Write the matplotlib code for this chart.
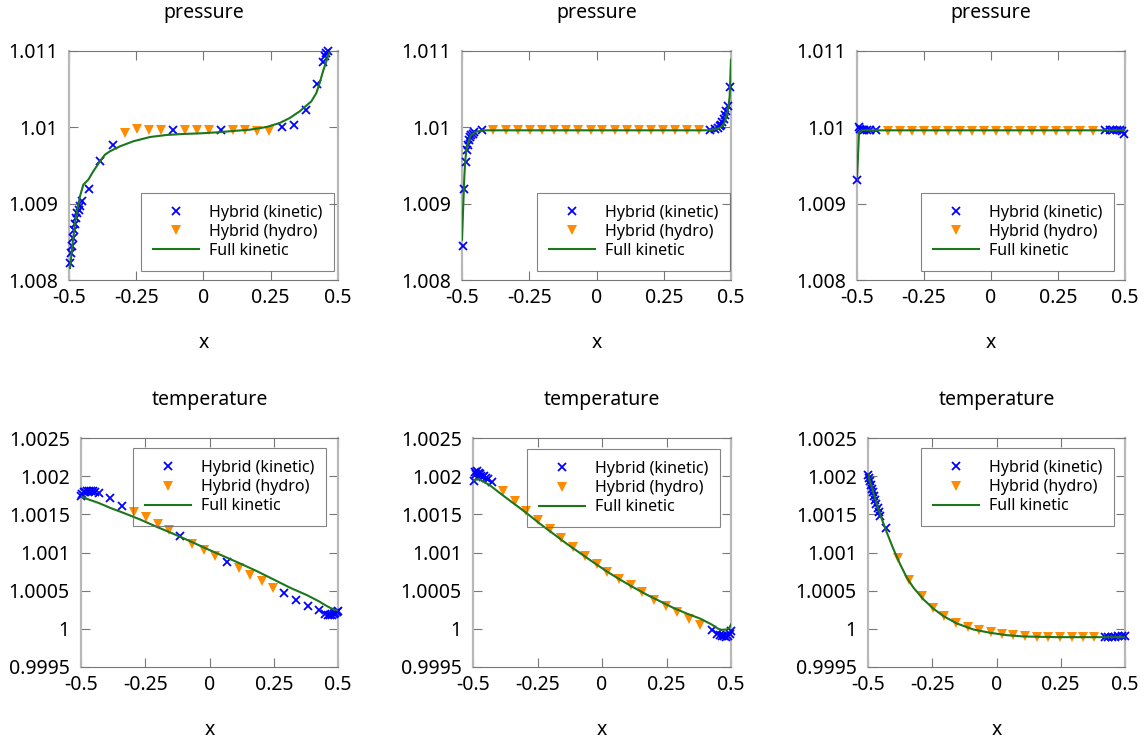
import matplotlib
matplotlib.use("Agg")
import matplotlib.pyplot as plt
from matplotlib.ticker import FuncFormatter

plt.rcParams['font.family'] = ['Noto Sans', 'DejaVu Sans']
plt.rcParams['axes.unicode_minus'] = False

# ---------------- pressure, left panel ----------------
p1_kin_x = [-0.4963, -0.4926, -0.4889, -0.4851, -0.4814, -0.4765, -0.4728, -0.4691, -0.4641,
            -0.4592, -0.4530, -0.4270, -0.3849, -0.3354, -0.1126, 0.0644, 0.2921, 0.3354,
            0.3800, 0.4233, 0.4443, 0.4505, 0.4567, 0.4629]
p1_kin_y = [1.008223, 1.008354, 1.008450, 1.008550, 1.008651, 1.008738, 1.008812, 1.008878,
            1.008921, 1.008974, 1.009031, 1.009192, 1.009555, 1.009764, 1.009961, 1.009961,
            1.010004, 1.010035, 1.010227, 1.010568, 1.010856, 1.010930, 1.010974, 1.011000]
p1_hyd_x = [-0.2921, -0.2475, -0.2030, -0.1584, -0.0681, -0.0235, 0.0210, 0.1101, 0.1547,
            0.1993, 0.2438]
p1_hyd_y = [1.009925, 1.009980, 1.009969, 1.009969, 1.009961, 1.009961, 1.009961, 1.009969,
            1.009961, 1.009956, 1.009956]
p1_full_x = [-0.4963, -0.4864, -0.4777, -0.4691, -0.4592, -0.4468, -0.4282, -0.4097, -0.3849,
             -0.3663, -0.3478, -0.3106, -0.2611, -0.1993, -0.1374, -0.0755, -0.0136, 0.0483,
             0.1101, 0.1720, 0.2339, 0.2834, 0.3205, 0.3577, 0.4010, 0.4196, 0.4319, 0.4443,
             0.4567, 0.4666]
p1_full_y = [1.008157, 1.008485, 1.008747, 1.008921, 1.009096, 1.009249, 1.009314, 1.009424,
             1.009555, 1.009642, 1.009686, 1.009751, 1.009817, 1.009873, 1.009900, 1.009913,
             1.009921, 1.009934, 1.009952, 1.009969, 1.010004, 1.010057, 1.010122, 1.010210,
             1.010341, 1.010450, 1.010581, 1.010734, 1.010865, 1.010974]

# ---------------- pressure, middle panel ----------------
p2_kin_x = [-0.4975, -0.4913, -0.4864, -0.4826, -0.4789, -0.4739, -0.4702, -0.4653, -0.4603,
            -0.4553, -0.4268, 0.4231, 0.4417, 0.4504, 0.4578, 0.4628, 0.4677, 0.4727, 0.4777,
            0.4826, 0.4888, 0.4950]
p2_kin_y = [1.008450, 1.009192, 1.009541, 1.009707, 1.009773, 1.009838, 1.009873, 1.009904,
            1.009917, 1.009934, 1.009961, 1.009961, 1.009978, 1.009996, 1.010013, 1.010035,
            1.010066, 1.010109, 1.010166, 1.010210, 1.010284, 1.010528]
p2_hyd_x = [-0.3834, -0.3375, -0.2928, -0.2469, -0.2022, -0.1576, -0.1129, -0.0670, -0.0223,
            0.0223, 0.0670, 0.1129, 0.1576, 0.2022, 0.2469, 0.2928, 0.3375, 0.3821]
p2_hyd_y = [1.009961] * 18
p2_full_x = [-0.5, -0.4950, -0.4913, -0.4876, -0.4826, -0.4764, -0.4677, -0.4516, -0.4206,
             0.0012, 0.4107, 0.4355, 0.4541, 0.4665, 0.4752, 0.4826, 0.4901, 0.4950, 0.5]
p2_full_y = [1.008528, 1.009009, 1.009358, 1.009576, 1.009729, 1.009817, 1.009891, 1.009939,
             1.009961, 1.009961, 1.009961, 1.009969, 1.009987, 1.010013, 1.010057, 1.010135,
             1.010253, 1.010406, 1.010886]

# ---------------- pressure, right panel ----------------
p3_kin_x = [-0.4988, -0.4938, -0.4876, -0.4814, -0.4727, -0.4627, -0.4503, -0.4280, 0.4255,
            0.4441, 0.4565, 0.4689, 0.4814, 0.4901, 0.4975]
p3_kin_y = [1.009314, 1.010004, 1.009978, 1.009969, 1.009969, 1.009969, 1.009969, 1.009961,
            1.009961, 1.009969, 1.009969, 1.009969, 1.009969, 1.009956, 1.009917]
p3_hyd_x = [-0.3845, -0.3410, -0.2963, -0.2503, -0.2056, -0.1609, -0.1161, -0.0714, -0.0267,
            0.0180, 0.0627, 0.1075, 0.1522, 0.1969, 0.2416, 0.2863, 0.3311, 0.3795]
p3_hyd_y = [1.009956] * 18
p3_full_x = [-0.5, -0.4925, -0.4814, 0.5]
p3_full_y = [1.009314, 1.009926, 1.009961, 1.009961]

# ---------------- temperature, left panel ----------------
t1_kin_x = [-0.5, -0.4948, -0.4896, -0.4831, -0.4767, -0.4689, -0.4611, -0.4533, -0.4442,
            -0.4313, -0.3859, -0.3392, -0.1135, 0.0681, 0.2912, 0.3366, 0.3820, 0.4274,
            0.4507, 0.4598, 0.4676, 0.4754, 0.4831, 0.4896, 0.4961, 0.5]
t1_kin_y = [1.001745, 1.001771, 1.001789, 1.001798, 1.001802, 1.001802, 1.001802, 1.001802,
            1.001798, 1.001780, 1.001710, 1.001606, 1.001213, 1.000877, 1.000471, 1.000384,
            1.000305, 1.000244, 1.000188, 1.000179, 1.000179, 1.000183, 1.000188, 1.000201,
            1.000218, 1.000231]
t1_hyd_x = [-0.2925, -0.2471, -0.2017, -0.1563, -0.0681, -0.0227, 0.0227, 0.1135, 0.1589,
            0.2043, 0.2471]
t1_hyd_y = [1.001531, 1.001462, 1.001379, 1.001300, 1.001117, 1.001038, 1.000951, 1.000798,
            1.000707, 1.000624, 1.000537]
t1_full_x = [-0.5, -0.4767, -0.4313, -0.3859, -0.3340, -0.2691, -0.2043, -0.1394, -0.0746,
             -0.0097, 0.0551, 0.1200, 0.1848, 0.2497, 0.3145, 0.3794, 0.4248, 0.4572, 0.4831,
             0.5]
t1_full_y = [1.001736, 1.001702, 1.001649, 1.001584, 1.001518, 1.001431, 1.001335, 1.001243,
             1.001147, 1.001047, 1.000951, 1.000855, 1.000755, 1.000646, 1.000537, 1.000441,
             1.000362, 1.000297, 1.000253, 1.000240]

# ---------------- temperature, middle panel ----------------
t2_kin_x = [-0.4974, -0.4935, -0.4884, -0.4832, -0.4780, -0.4728, -0.4677, -0.4625, -0.4560,
            -0.4495, -0.4431, -0.4276, 0.4250, 0.4470, 0.4573, 0.4651, 0.4728, 0.4806, 0.4884,
            0.4961, 0.5]
t2_kin_y = [1.001933, 1.002051, 1.002029, 1.002064, 1.002042, 1.002029, 1.002007, 1.001990,
            1.001998, 1.001972, 1.001963, 1.001928, 0.999983, 0.999926, 0.999913, 0.999904,
            0.999900, 0.999895, 0.999904, 0.999926, 0.999969]
t2_hyd_x = [-0.3836, -0.3383, -0.2930, -0.2477, -0.2025, -0.1572, -0.1119, -0.0666, -0.0213,
            0.0213, 0.0666, 0.1106, 0.1559, 0.2012, 0.2464, 0.2917, 0.3357, 0.3797]
t2_hyd_y = [1.001811, 1.001680, 1.001549, 1.001422, 1.001309, 1.001187, 1.001073, 1.000960,
            1.000855, 1.000742, 1.000659, 1.000572, 1.000480, 1.000384, 1.000305, 1.000218,
            1.000135, 1.000048]
t2_full_x = [-0.5, -0.4806, -0.4612, -0.4327, -0.3965, -0.3448, -0.2930, -0.2413, -0.1895,
             -0.1378, -0.0860, -0.0343, 0.0175, 0.0692, 0.1210, 0.1727, 0.2245, 0.2762, 0.3280,
             0.3797, 0.4250, 0.4508, 0.4638, 0.4832, 0.4935, 0.5]
t2_full_y = [1.001942, 1.001963, 1.001933, 1.001876, 1.001780, 1.001649, 1.001518, 1.001379,
             1.001248, 1.001117, 1.000995, 1.000873, 1.000755, 1.000646, 1.000545, 1.000449,
             1.000362, 1.000275, 1.000201, 1.000135, 1.000057, 1.000000, 0.999987, 0.999991,
             1.000013, 1.000057]

# ---------------- temperature, right panel ----------------
t3_kin_x = [-0.5, -0.4961, -0.4922, -0.4883, -0.4845, -0.4806, -0.4767, -0.4728, -0.4676,
            -0.4624, -0.4573, -0.4521, -0.4301, 0.4223, 0.4352, 0.4482, 0.4611, 0.4741, 0.4870,
            0.5]
t3_kin_y = [1.002011, 1.001976, 1.001933, 1.001889, 1.001837, 1.001789, 1.001745, 1.001693,
            1.001640, 1.001584, 1.001527, 1.001475, 1.001318, 0.999891, 0.999891, 0.999895,
            0.999895, 0.999900, 0.999900, 0.999904]
t3_hyd_x = [-0.3847, -0.3420, -0.2902, -0.2474, -0.2034, -0.1580, -0.1127, -0.0674, -0.0233,
            0.0220, 0.0661, 0.1114, 0.1567, 0.2021, 0.2474, 0.2927, 0.3381, 0.3808]
t3_hyd_y = [1.000929, 1.000637, 1.000436, 1.000275, 1.000166, 1.000079, 1.000026, 0.999983,
            0.999956, 0.999935, 0.999917, 0.999904, 0.999895, 0.999891, 0.999891, 0.999891,
            0.999891, 0.999891]
t3_full_x = [-0.5, -0.4845, -0.4650, -0.4456, -0.4262, -0.4003, -0.3744, -0.3484, -0.3225,
             -0.2837, -0.2448, -0.2060, -0.1541, -0.0894, -0.0246, 0.0402, 0.1049, 0.2345, 0.5]
t3_full_y = [1.002020, 1.001846, 1.001627, 1.001431, 1.001257, 1.001038, 1.000842, 1.000667,
             1.000537, 1.000384, 1.000262, 1.000166, 1.000070, 0.999991, 0.999948, 0.999917,
             0.999900, 0.999891, 0.999891]

x_ticks = [-0.5, -0.25, 0, 0.25, 0.5]
p_ticks = [1.008, 1.009, 1.01, 1.011]
t_ticks = [0.9995, 1.0, 1.0005, 1.001, 1.0015, 1.002, 1.0025]
series_labels = ["Hybrid (kinetic)", "Hybrid (hydro)", "Full kinetic"]

W, H = 1144, 742
fig = plt.figure(figsize=(W / 100, H / 100), dpi=100)


def rect(left, top, right, bottom):
    return [left / W, 1 - bottom / H, (right - left) / W, (bottom - top) / H]


panels = [
    # (pixel box, title, data, y range, y ticks, legend anchor, legend loc, title pad)
    ((69, 51, 338, 280), "pressure", (p1_kin_x, p1_kin_y, p1_hyd_x, p1_hyd_y, p1_full_x, p1_full_y),
     (1.008, 1.011), p_ticks, (0.985, 0.039), "lower right", 24),
    ((462, 51, 731, 280), "pressure", (p2_kin_x, p2_kin_y, p2_hyd_x, p2_hyd_y, p2_full_x, p2_full_y),
     (1.008, 1.011), p_ticks, (0.996, 0.039), "lower right", 24),
    ((857, 51, 1125, 280), "pressure", (p3_kin_x, p3_kin_y, p3_hyd_x, p3_hyd_y, p3_full_x, p3_full_y),
     (1.008, 1.011), p_ticks, (0.959, 0.039), "lower right", 24),
    ((81, 438, 338, 667), "temperature", (t1_kin_x, t1_kin_y, t1_hyd_x, t1_hyd_y, t1_full_x, t1_full_y),
     (0.9995, 1.0025), t_ticks, (0.953, 0.956), "upper right", 24),
    ((473, 438, 731, 667), "temperature", (t2_kin_x, t2_kin_y, t2_hyd_x, t2_hyd_y, t2_full_x, t2_full_y),
     (0.9995, 1.0025), t_ticks, (0.957, 0.952), "upper right", 24),
    ((868, 438, 1125, 667), "temperature", (t3_kin_x, t3_kin_y, t3_hyd_x, t3_hyd_y, t3_full_x, t3_full_y),
     (0.9995, 1.0025), t_ticks, (0.957, 0.956), "upper right", 24),
]

fmt = FuncFormatter(lambda v, pos: "%g" % round(v, 6))

for box, title, data, ylim, yticks, anchor, loc, tpad in panels:
    ax = fig.add_axes(rect(*box))
    kx, ky, hx, hy, fx, fy = data
    ax.plot(kx, ky, linestyle="none", marker="x", color="#0000ff", markersize=5.5,
            markeredgewidth=1.3, label=series_labels[0], clip_on=False, zorder=3)
    ax.plot(hx, hy, linestyle="none", marker="v", color="#ff8c00", markersize=7,
            markeredgewidth=0, label=series_labels[1], clip_on=False, zorder=3)
    ax.plot(fx, fy, color="#1c761c", linewidth=1.5, label=series_labels[2], zorder=4)

    ax.set_xlim(-0.5, 0.5)
    ax.set_ylim(*ylim)
    ax.set_xticks(x_ticks)
    ax.set_yticks(yticks)
    ax.xaxis.set_major_formatter(fmt)
    ax.yaxis.set_major_formatter(fmt)
    ax.tick_params(direction="in", length=6.5, width=0.8, color="#777777",
                   top=True, right=True, labelsize=14, labelcolor="black")
    ax.tick_params(axis="y", pad=8)
    ax.tick_params(axis="x", pad=6)
    for side in ("top", "bottom"):
        ax.spines[side].set_color("#777777")
        ax.spines[side].set_linewidth(0.8)
    for side in ("left", "right"):
        ax.spines[side].set_color("#b8b8b8")
        ax.spines[side].set_linewidth(1.6)

    ax.set_title(title, fontsize=14, pad=tpad)
    ax.set_xlabel("x", fontsize=14, labelpad=18)

    leg = ax.legend(loc=loc, bbox_to_anchor=anchor, borderaxespad=0, fontsize=11.5,
                    frameon=True, fancybox=False, handlelength=2.9, handletextpad=0.6,
                    labelspacing=0.2, borderpad=0.75, markerfirst=True)
    frame = leg.get_frame()
    frame.set_edgecolor("#666666")
    frame.set_linewidth(0.8)
    frame.set_facecolor("none")

fig.savefig("out.png", dpi=100)
